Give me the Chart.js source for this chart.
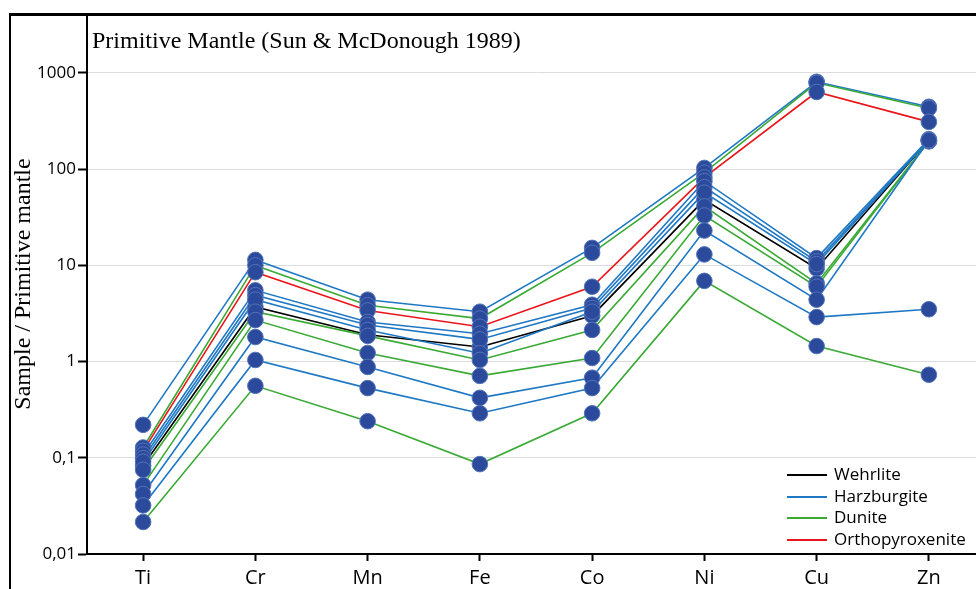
<!DOCTYPE html>
<html>
<head>
<meta charset="utf-8">
<script src="https://cdn.jsdelivr.net/npm/chart.js@4"></script>
<style>
  body { margin: 0; overflow: hidden; background: #fff; }
  #wrap { position: relative; width: 1000px; height: 589px; }
  #frame { position: absolute; left: 9px; top: 13px; width: 1000px; height: 600px;
           border-top: 3px solid #000; border-left: 2px solid #000; box-sizing: border-box; }
  #title { position: absolute; left: 92px; top: 27px; font: 24px "Liberation Serif", serif; color: #000; white-space: nowrap; }
  #legend { position: absolute; left: 787px; top: 463px; font: 17px "Open Sans", sans-serif; color: #000; }
  #legend div { height: 21.5px; line-height: 21.5px; white-space: nowrap; }
  #legend span { display: inline-block; width: 40px; height: 2px; vertical-align: middle; margin-right: 7px; }
  canvas { position: absolute; left: 0; top: 0; }
</style>
</head>
<body>
<div id="wrap">
  <div id="frame"></div>
  <canvas id="pmChart" width="1000" height="589"></canvas>
  <div id="title">Primitive Mantle (Sun &amp; McDonough 1989)</div>
  <div id="legend"></div>
</div>
<script>
// Éléments et graduations
const categories = ["Ti", "Cr", "Mn", "Fe", "Co", "Ni", "Cu", "Zn"];
const yTickValues = [0.01, 0.1, 1, 10, 100, 1000];
const yTickLabels = ["0,01", "0,1", "1", "10", "100", "1000"];

const rockTypes = ["Wehrlite", "Harzburgite", "Dunite", "Orthopyroxenite"];
const rockColors = ["#000000", "#1f78c4", "#3aaa35", "#e8151b"];

// Valeurs normalisées (Ti, Cr, Mn, Fe, Co, Ni, Cu, Zn)
const harz1 = [0.22, 11.4, 4.4, 3.3, 15.2, 103, 810, 445];
const dun1 = [0.128, 10.0, 3.85, 2.8, 13.5, 92, 790, 430];
const orth1 = [0.118, 8.5, 3.4, 2.3, 6.0, 82, 634, 310];
const harz2 = [0.108, 5.5, 2.58, 1.95, 3.9, 75, 11.9, 205];
const harz3 = [0.099, 4.9, 2.4, 1.7, 3.6, 65, 11.0, 200];
const harz4 = [0.091, 4.4, 2.13, 1.22, 3.3, 57, 10.3, 200];
const wehr1 = [0.083, 3.7, 1.9, 1.42, 3.0, 48, 9.3, 200];
const dun2 = [0.075, 3.3, 1.85, 1.04, 2.13, 41, 6.5, 195];
const dun3 = [0.052, 2.7, 1.23, 0.71, 1.09, 33, 6.0, 195];
const harz5 = [0.042, 1.8, 0.88, 0.42, 0.68, 23, 4.4, 200];
const harz6 = [0.032, 1.04, 0.53, 0.29, 0.53, 13, 2.9, 3.5];
const dun4 = [0.0215, 0.56, 0.24, 0.086, 0.29, 6.9, 1.45, 0.73];

const samples = [
  { type: "Harzburgite", values: harz6 },
  { type: "Dunite", values: dun4 },
  { type: "Harzburgite", values: harz5 },
  { type: "Dunite", values: dun3 },
  { type: "Dunite", values: dun2 },
  { type: "Harzburgite", values: harz4 },
  { type: "Harzburgite", values: harz3 },
  { type: "Harzburgite", values: harz2 },
  { type: "Wehrlite", values: wehr1 },
  { type: "Orthopyroxenite", values: orth1 },
  { type: "Dunite", values: dun1 },
  { type: "Harzburgite", values: harz1 },
];

function colorOf(type) {
  return rockColors[rockTypes.indexOf(type)];
}

// lignes d'abord, points par-dessus
const lineSets = samples.map((s) => ({
  data: s.values,
  borderColor: colorOf(s.type),
  borderWidth: 1.6,
  pointRadius: 0,
  fill: false,
  tension: 0,
  order: 2,
}));
const pointSets = samples.map((s) => ({
  data: s.values,
  showLine: false,
  pointRadius: 7.8,
  pointBackgroundColor: "#2c4a9c",
  pointBorderColor: "#5273b8",
  pointBorderWidth: 1,
  order: 1,
}));

// légende HTML
const legendBox = document.getElementById("legend");
rockTypes.forEach((t, i) => {
  const row = document.createElement("div");
  const sw = document.createElement("span");
  sw.style.background = rockColors[i];
  row.appendChild(sw);
  row.appendChild(document.createTextNode(t));
  legendBox.appendChild(row);
});

const ctx = document.getElementById("pmChart").getContext("2d");
new Chart(ctx, {
  type: "line",
  data: { labels: categories, datasets: [...lineSets, ...pointSets] },
  options: {
    responsive: false,
    animation: false,
    layout: { padding: { top: 14, right: 15, left: 0, bottom: 0 } },
    plugins: { legend: { display: false }, tooltip: { enabled: false } },
    scales: {
      x: {
        type: "category",
        offset: true,
        grid: {
          offset: false,
          drawOnChartArea: false,
          tickLength: 7,
          tickColor: "#000",
          tickWidth: 2,
        },
        border: { color: "#000", width: 2 },
        ticks: {
          color: "#000",
          padding: 5,
          font: { family: "Open Sans", size: 20 },
          maxRotation: 0,
        },
        afterFit: (scale) => {
          scale.height = 35;
        },
      },
      y: {
        type: "logarithmic",
        min: 0.01,
        max: 4100,
        afterBuildTicks: (scale) => {
          scale.ticks = yTickValues.map((v) => ({ value: v }));
        },
        grid: {
          color: "#dcdcdc",
          lineWidth: 1,
          tickLength: 9,
          tickColor: "#000",
          tickWidth: 2,
        },
        border: { color: "#000", width: 2 },
        ticks: {
          color: "#000",
          padding: 2,
          font: { family: "Open Sans", size: 17 },
          callback: (value, index) => yTickLabels[index],
        },
        title: {
          display: true,
          text: "Sample / Primitive mantle",
          color: "#000",
          font: { family: "Liberation Serif", size: 24 },
          padding: { top: 9, bottom: 0 },
        },
        afterFit: (scale) => {
          scale.width = 87;
        },
      },
    },
  },
});
</script>
</body>
</html>
